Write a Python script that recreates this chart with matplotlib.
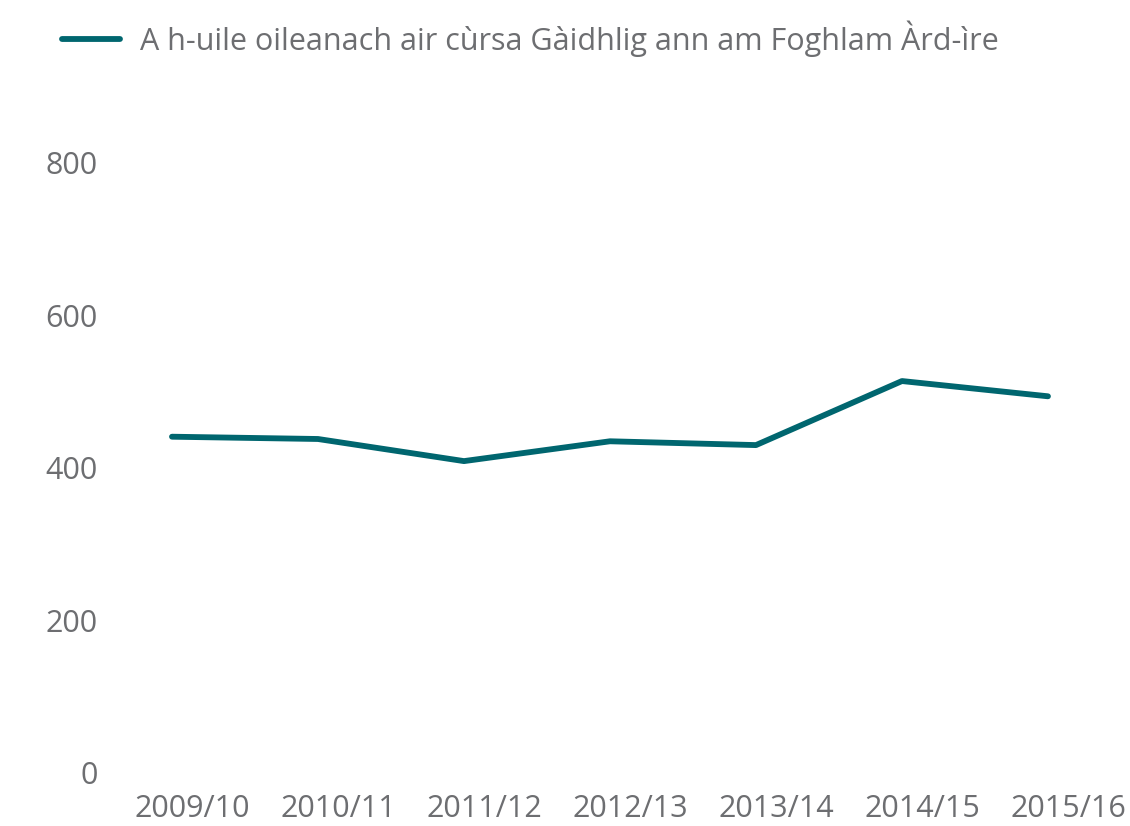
import numpy as np
import matplotlib.pyplot as plt
import matplotlib.transforms as mtransforms

years = ["2009/10", "2010/11", "2011/12", "2012/13", "2013/14", "2014/15", "2015/16"]
students = [441, 438, 409, 435, 430, 514, 494]
series_name = "A h-uile oileanach air cùrsa Gàidhlig ann am Foghlam Àrd-ìre"

plt.rcParams['font.family'] = ['Open Sans', 'DejaVu Sans']
grey = '#6d6e71'
teal = '#00666f'

fig = plt.figure(figsize=(11.3, 8.26), dpi=100)
ax = fig.add_axes([0.0876, 0.0642, 0.9044, 0.7385])

x = np.arange(len(years))
ax.plot(x, students, color=teal, linewidth=4.2, solid_capstyle='round',
        solid_joinstyle='round', label=series_name)

ax.set_xlim(-0.5, len(years) - 0.5)
ax.set_ylim(0, 800)
ax.set_yticks([0, 200, 400, 600, 800])
ax.set_xticks(x)
ax.set_xticklabels(years)
ax.tick_params(axis='both', length=0, labelsize=22, colors=grey)
ax.tick_params(axis='x', pad=15)
ax.tick_params(axis='y', pad=1)
for s in ax.spines.values():
    s.set_visible(False)

# category labels sit a little right of the data points
shift = mtransforms.ScaledTranslation(0.2, 0, fig.dpi_scale_trans)
for lab in ax.get_xticklabels():
    lab.set_transform(lab.get_transform() + shift)

fig.legend(loc='upper left', bbox_to_anchor=(0.044, 0.99), frameon=False,
           borderaxespad=0, fontsize=22, labelcolor=grey,
           handlelength=1.9, handletextpad=0.65)

fig.savefig('out.png', dpi=100)
